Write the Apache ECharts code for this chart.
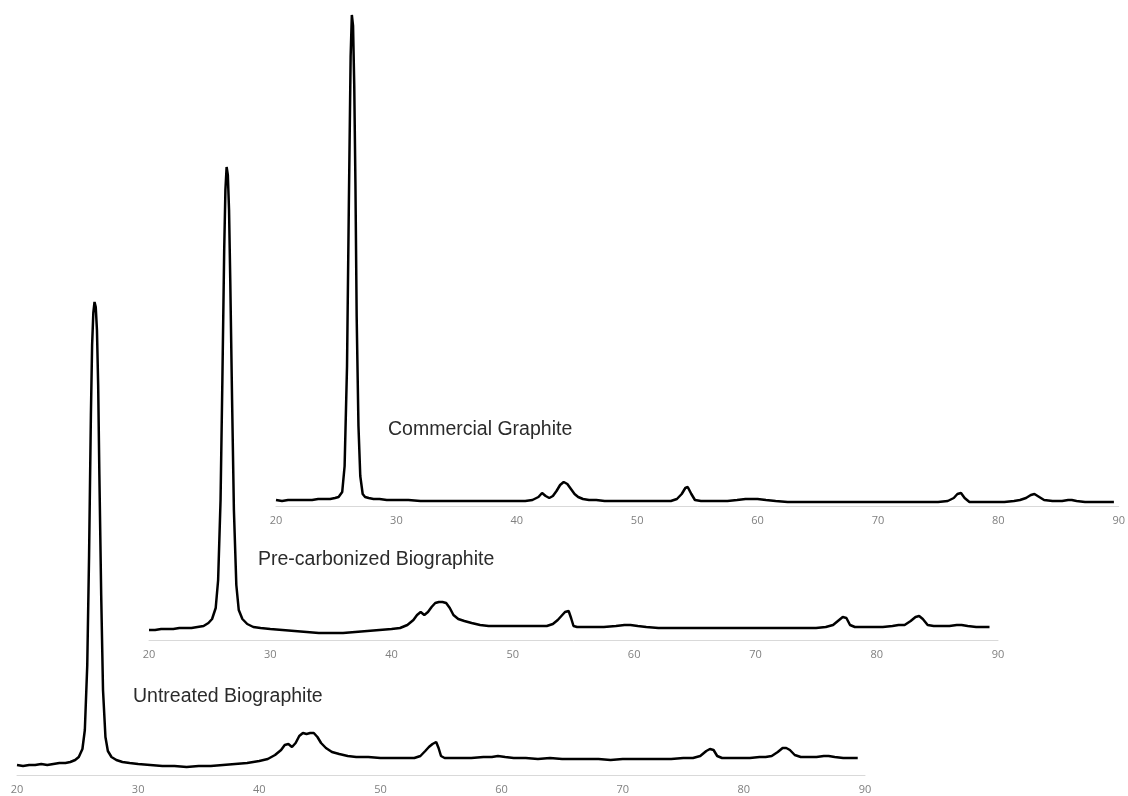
<!DOCTYPE html>
<html>
<head>
<meta charset="utf-8">
<script src="https://cdn.jsdelivr.net/npm/echarts@6/dist/echarts.min.js"></script>
<style>
html,body{margin:0;padding:0;background:#fff;}
#chart{width:1128px;height:796px;}
</style>
</head>
<body>
<div id="chart"></div>
<script>
// 2-theta tick labels shared by all three patterns
const xTicks = [20, 30, 40, 50, 60, 70, 80, 90];
const seriesNames = ['Untreated Biographite', 'Pre-carbonized Biographite', 'Commercial Graphite'];

// [2θ, intensity (a.u.)]
const untreated = [
[20.0,10],[20.5,9],[21.0,10],[21.5,10],[22.0,11],[22.5,10],[23.0,11],[23.5,12],[24.0,12],[24.4,13],[24.8,15],[25.1,18],[25.4,26],[25.6,45],[25.8,110],[25.95,220],[26.1,360],[26.2,430],[26.3,462],[26.4,473],[26.5,468],[26.6,445],[26.7,390],[26.8,300],[26.95,180],[27.1,85],[27.3,38],[27.5,24],[27.8,18],[28.2,15],[28.7,13],[29.3,12],[30.0,11],[31.0,10],[32.0,9],[33.0,9],[34.0,8],[35.0,9],[36.0,9],[37.0,10],[38.0,11],[39.0,12],[40.0,14],[40.7,16],[41.3,20],[41.8,25],[42.1,30],[42.4,31],[42.7,28],[43.0,32],[43.3,39],[43.6,42],[43.9,41],[44.2,42],[44.5,42],[44.8,38],[45.1,32],[45.5,27],[46.0,23],[46.6,21],[47.3,19],[48.0,18],[49.0,18],[50.0,17],[51.0,17],[52.0,17],[52.8,17],[53.3,19],[53.7,24],[54.0,28],[54.3,31],[54.6,33],[54.8,27],[55.0,19],[55.3,17],[55.8,17],[56.5,17],[57.5,17],[58.5,18],[59.2,18],[59.7,19],[60.3,18],[61.0,17],[62.0,17],[63.0,16],[64.0,17],[65.0,16],[66.0,16],[67.0,16],[68.0,16],[69.0,15],[70.0,16],[71.0,16],[72.0,16],[73.0,16],[74.0,16],[75.0,17],[75.8,17],[76.4,19],[76.9,24],[77.2,26],[77.5,25],[77.8,19],[78.2,17],[78.7,17],[79.5,17],[80.5,17],[81.3,18],[81.8,18],[82.3,19],[82.8,23],[83.2,27],[83.5,27],[83.8,25],[84.2,20],[84.7,18],[85.3,18],[86.0,18],[86.6,19],[87.0,19],[87.5,18],[88.2,17],[88.8,17],[89.4,17]
];

const preCarbonized = [
[20.0,10],[20.5,10],[21.0,11],[21.5,11],[22.0,11],[22.5,12],[23.0,12],[23.5,12],[24.0,13],[24.5,14],[24.9,17],[25.2,21],[25.5,32],[25.7,60],[25.9,140],[26.05,260],[26.2,390],[26.3,450],[26.4,473],[26.5,465],[26.6,430],[26.7,360],[26.85,240],[27.0,130],[27.2,55],[27.4,30],[27.7,21],[28.1,16],[28.6,13],[29.2,12],[30.0,11],[31.0,10],[32.0,9],[33.0,8],[34.0,7],[35.0,7],[36.0,7],[37.0,8],[38.0,9],[39.0,10],[40.0,11],[40.7,12],[41.3,15],[41.8,20],[42.1,25],[42.4,28],[42.7,25],[43.0,28],[43.3,33],[43.6,37],[43.9,38],[44.2,38],[44.5,37],[44.8,32],[45.1,25],[45.5,21],[46.0,19],[46.6,17],[47.3,15],[48.0,14],[49.0,14],[50.0,14],[51.0,14],[52.0,14],[52.8,14],[53.3,16],[53.7,20],[54.0,24],[54.3,28],[54.6,29],[54.8,22],[55.0,14],[55.3,13],[55.8,13],[56.5,13],[57.5,13],[58.5,14],[59.2,15],[59.7,15],[60.3,14],[61.0,13],[62.0,12],[63.0,12],[64.0,12],[65.0,12],[66.0,12],[67.0,12],[68.0,12],[69.0,12],[70.0,12],[71.0,12],[72.0,12],[73.0,12],[74.0,12],[75.0,12],[75.8,13],[76.4,15],[76.9,20],[77.2,23],[77.5,22],[77.8,15],[78.2,13],[78.7,13],[79.5,13],[80.5,13],[81.3,14],[81.8,15],[82.3,15],[82.8,19],[83.2,23],[83.5,24],[83.8,21],[84.2,15],[84.7,14],[85.3,14],[86.0,14],[86.6,15],[87.0,15],[87.5,14],[88.2,13],[88.8,13],[89.3,13]
];

const commercial = [
[20.0,6],[20.5,5],[21.0,6],[21.5,6],[22.0,6],[22.5,6],[23.0,6],[23.5,7],[24.0,7],[24.5,7],[24.9,8],[25.2,9],[25.5,14],[25.7,40],[25.9,140],[26.05,300],[26.2,450],[26.3,491],[26.4,480],[26.5,420],[26.6,320],[26.7,190],[26.85,80],[27.0,30],[27.2,12],[27.4,9],[27.7,8],[28.1,7],[28.6,7],[29.2,6],[30.0,6],[31.0,6],[32.0,5],[33.0,5],[34.0,5],[35.0,5],[36.0,5],[37.0,5],[38.0,5],[39.0,5],[40.0,5],[40.7,5],[41.3,6],[41.8,9],[42.1,13],[42.4,10],[42.7,8],[43.0,10],[43.3,15],[43.6,21],[43.9,24],[44.2,22],[44.5,17],[44.8,12],[45.1,9],[45.5,7],[46.0,6],[46.6,6],[47.3,5],[48.0,5],[49.0,5],[50.0,5],[51.0,5],[52.0,5],[52.8,5],[53.3,7],[53.7,12],[54.0,18],[54.2,19],[54.5,12],[54.8,6],[55.3,5],[56.0,5],[57.0,5],[57.5,5],[58.3,6],[59.0,7],[59.5,7],[60.0,7],[60.7,6],[61.5,5],[62.5,4],[63.5,4],[65.0,4],[66.0,4],[67.0,4],[68.0,4],[69.0,4],[70.0,4],[71.0,4],[72.0,4],[73.0,4],[74.0,4],[75.0,4],[75.8,5],[76.3,8],[76.6,12],[76.9,13],[77.2,8],[77.6,4],[78.5,4],[79.5,4],[80.5,4],[81.3,5],[81.8,6],[82.3,8],[82.7,11],[83.0,12],[83.4,9],[83.8,6],[84.5,5],[85.3,5],[85.8,6],[86.1,6],[86.5,5],[87.2,4],[88.0,4],[88.7,4],[89.6,4]
];

const datasets = [untreated, preCarbonized, commercial];
// pixel layout of the three offset panels
const panels = [
  {left: 17, width: 848, axisY: 775},
  {left: 149, width: 849, axisY: 640},
  {left: 276, width: 850, axisY: 506}
];
const H = 500;

const chart = echarts.init(document.getElementById('chart'), null, {renderer: 'canvas'});

const grid = panels.map(p => ({left: p.left, width: p.width, top: p.axisY - H, height: H, containLabel: false}));
const xAxis = panels.map((p, i) => ({
  type: 'value', gridIndex: i, min: xTicks[0], max: xTicks[xTicks.length - 1], interval: 10,
  axisLine: {show: true, lineStyle: {color: '#d9d9d9', width: 1}},
  axisTick: {show: false},
  splitLine: {show: false},
  axisLabel: {color: '#808080', fontSize: 11, margin: 9, fontFamily: 'Open Sans, Liberation Sans, sans-serif'}
}));
const yAxis = panels.map((p, i) => ({
  type: 'value', gridIndex: i, min: 0, max: H, show: false
}));
const series = datasets.map((d, i) => ({
  name: seriesNames[i], type: 'line', xAxisIndex: i, yAxisIndex: i,
  data: d, showSymbol: false, symbol: 'none', smooth: false,
  lineStyle: {color: '#000', width: 2.5}, z: 3 + i
}));

const labelPos = [
  {x: 133, y: 698},
  {x: 258, y: 561},
  {x: 388, y: 431}
];
const graphic = seriesNames.map((n, i) => ({
  type: 'text', left: labelPos[i].x, top: labelPos[i].y - 11,
  style: {text: n, fill: '#2b2b2b', font: '19.5px "Liberation Sans", Arial, sans-serif'}
}));

chart.setOption({
  backgroundColor: '#fff',
  animation: false,
  grid, xAxis, yAxis, series, graphic
});
</script>
</body>
</html>
